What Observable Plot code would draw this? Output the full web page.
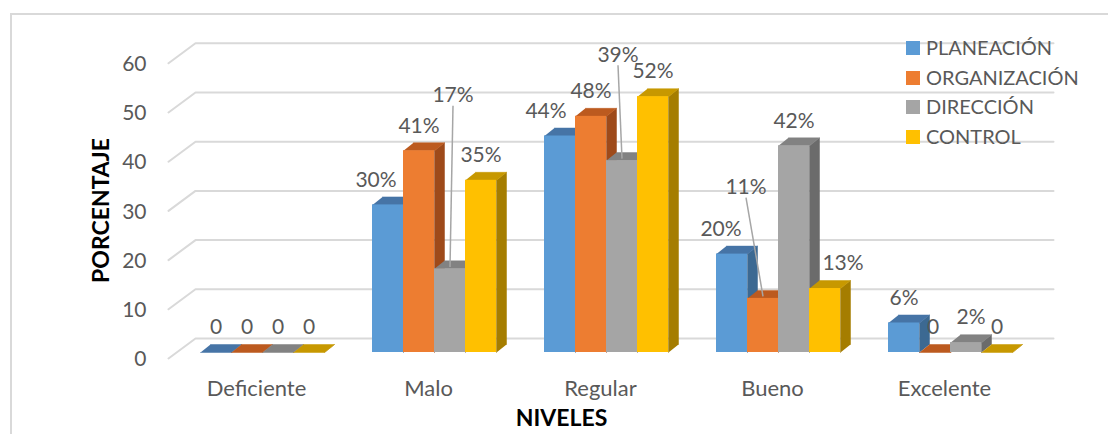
<!DOCTYPE html>
<html><head><meta charset="utf-8">
<script src="https://cdn.jsdelivr.net/npm/d3@7"></script>
<script src="https://cdn.jsdelivr.net/npm/@observablehq/plot@0.6"></script>
<style>
html,body{margin:0;padding:0;background:#fff;}
body{width:1108px;height:434px;position:relative;overflow:hidden;font-family:Lato,sans-serif;}
#chart{position:absolute;left:0;top:0;}
#border{position:absolute;left:10px;top:13px;width:1200px;height:600px;border:2px solid #d9d9d9;pointer-events:none;}
#legend{position:absolute;left:906px;top:33px;color:#595959;font-size:20px;line-height:29.7px;}
#legend .row{display:flex;align-items:center;white-space:nowrap;}
#legend .sw{width:14px;height:14px;margin-right:6px;flex:none;}
</style></head>
<body>
<div id="chart"></div>
<div id="border"></div>
<div id="legend"></div>
<script>
// ---- data ----
const categories = ["Deficiente", "Malo", "Regular", "Bueno", "Excelente"];
const seriesNames = ["PLANEACIÓN", "ORGANIZACIÓN", "DIRECCIÓN", "CONTROL"];
const planeacion   = [0, 30, 44, 20, 6];
const organizacion = [0, 41, 48, 11, 0];
const direccion    = [0, 17, 39, 42, 2];
const control      = [0, 35, 52, 13, 0];
const yTicks = [0, 10, 20, 30, 40, 50, 60];
const yTitle = "PORCENTAJE";
const xTitle = "NIVELES";

// ---- styles / layout ----
const frontColors = ["#5B9BD5", "#ED7D31", "#A5A5A5", "#FFC000"];
const topColors   = ["#4674A6", "#BC5A1F", "#828282", "#C79800"];
const sideColors  = ["#3C6992", "#9E4A1A", "#6B6B6B", "#A57D00"];
const X_RANGE = [262, 950];          // pixel centers of first/last category
const Y_RANGE = [352, 56.8];         // pixel of 0 and 60 on the bar front plane
const PX_X = (X_RANGE[1] - X_RANGE[0]) / 4;
const PX_Y = (Y_RANGE[0] - Y_RANGE[1]) / 60;
const BAR = 31 / PX_X;                       // bar width in category units
const DEPTH = {dx: 10 / PX_X, dy: 8 / PX_Y}; // bar depth
const pxToX = px => (px - X_RANGE[0]) / PX_X;
const GRID = {frontLeft: pxToX(168), backLeft: pxToX(195), right: pxToX(1053), drop: 6 / PX_Y, rise: 14 / PX_Y};
const labelDx = {"Malo|PLANEACIÓN": -12, "Regular|PLANEACIÓN": -14, "Bueno|PLANEACIÓN": -11, "Bueno|CONTROL": 18, "Excelente|DIRECCIÓN": 5, "Excelente|ORGANIZACIÓN": -2};
const leaderLabels = {"Malo|DIRECCIÓN": {dx: 3, at: 52.2}, "Regular|DIRECCIÓN": {dx: -4, at: 60.4}, "Bueno|ORGANIZACIÓN": {dx: -17, at: 33.5}};

const seriesValues = [planeacion, organizacion, direccion, control];
const bars = [];
categories.forEach((c, i) => seriesNames.forEach((s, j) => {
  const xc = i + (j - 1.5) * BAR;
  const v = seriesValues[j][i];
  bars.push({cat: c, series: s, j, value: v, xc, x1: xc - BAR / 2, x2: xc + BAR / 2,
    label: v === 0 ? "0" : v + "%", key: c + "|" + s});
}));

const tops = [], sides = [];
bars.forEach((b, k) => {
  const v = b.value;
  [[b.x1, v], [b.x2, v], [b.x2 + DEPTH.dx, v + DEPTH.dy], [b.x1 + DEPTH.dx, v + DEPTH.dy]]
    .forEach(([x, y]) => tops.push({id: "t" + k, x, y, color: topColors[b.j]}));
  [[b.x2, 0], [b.x2, v], [b.x2 + DEPTH.dx, v + DEPTH.dy], [b.x2 + DEPTH.dx, DEPTH.dy]]
    .forEach(([x, y]) => sides.push({id: "s" + k, x, y, color: sideColors[b.j]}));
});

const grid = [];
yTicks.forEach(t => {
  grid.push({t, x: GRID.frontLeft, y: t - GRID.drop});
  grid.push({t, x: GRID.backLeft, y: t + GRID.rise});
  grid.push({t, x: GRID.right, y: t + GRID.rise});
});

const normalLabels = bars.filter(b => !leaderLabels[b.key]);
const leadLabels = bars.filter(b => leaderLabels[b.key]).map(b => ({...b,
  lx: b.xc + leaderLabels[b.key].dx / PX_X, ly: leaderLabels[b.key].at}));

const plot = Plot.plot({
  width: 1108, height: 434,
  marginLeft: 146, marginRight: 132, marginTop: 2, marginBottom: 16,
  x: {domain: [0, 4], range: X_RANGE, axis: null},
  y: {domain: [0, 60], range: Y_RANGE, axis: null},
  color: {type: "identity"},
  style: {background: "transparent", fontFamily: "Lato, sans-serif", fontSize: "20px", color: "#595959"},
  marks: [
    Plot.line(grid, {x: "x", y: "y", z: "t", stroke: "#d9d9d9", strokeWidth: 2}),
    Plot.text(yTicks, {y: d => d, text: d => String(d), frameAnchor: "left", textAnchor: "end", lineAnchor: "middle", dy: 7, fontSize: 21}),
    Plot.line(sides, {x: "x", y: "y", z: "id", fill: "color", stroke: "color", strokeWidth: 0.5}),
    Plot.line(tops, {x: "x", y: "y", z: "id", fill: "color", stroke: "color", strokeWidth: 0.5}),
    Plot.rect(bars, {x1: "x1", x2: "x2", y1: 0, y2: "value", fill: d => frontColors[d.j]}),
    Plot.text(normalLabels, {x: d => d.xc + (labelDx[d.key] || 0) / PX_X, y: "value", text: "label", dy: -25, fontSize: 21}),
    Plot.link(leadLabels, {x1: "lx", y1: d => d.ly - 10 / PX_Y, x2: "xc", y2: d => d.value + 0.4, stroke: "#a6a6a6", strokeWidth: 1.5}),
    Plot.text(leadLabels, {x: "lx", y: "ly", text: "label", fontSize: 21}),
    Plot.text(categories, {x: (d, i) => i, y: 0, text: d => d, dy: 36, dx: -6, fontSize: 22}),
    Plot.text([xTitle], {frameAnchor: "bottom", text: d => d, textAnchor: "middle", lineAnchor: "middle", fontWeight: "bold", fill: "#000", fontSize: 23}),
    Plot.text([yTitle], {frameAnchor: "left", text: d => d, rotate: -90, textAnchor: "middle", lineAnchor: "middle", dx: -45, fontWeight: "bold", fill: "#000", fontSize: 23})
  ]
});
document.getElementById("chart").appendChild(plot);

const legend = document.getElementById("legend");
seriesNames.forEach((s, j) => {
  const row = document.createElement("div");
  row.className = "row";
  const sw = document.createElement("span");
  sw.className = "sw";
  sw.style.background = frontColors[j];
  const tx = document.createElement("span");
  tx.textContent = s;
  row.appendChild(sw); row.appendChild(tx);
  legend.appendChild(row);
});
</script>
</body></html>
